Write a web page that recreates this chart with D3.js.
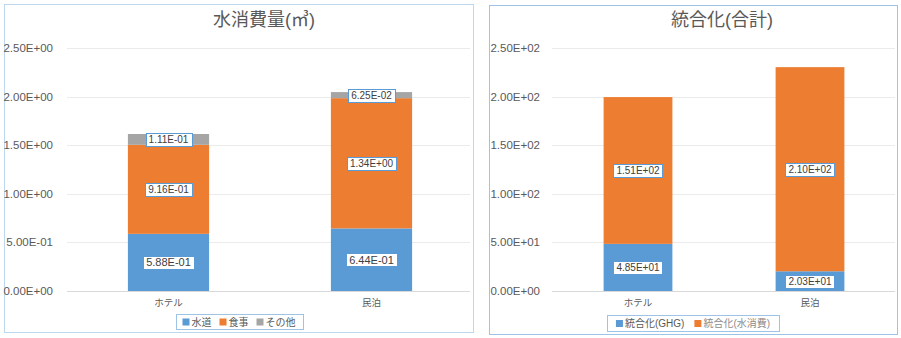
<!DOCTYPE html>
<html><head><meta charset="utf-8">
<script src="https://cdn.jsdelivr.net/npm/d3@7"></script>
<style>body{margin:0;background:#fff;} svg{display:block;font-family:"Liberation Sans","Noto Sans CJK JP",sans-serif;}</style>
</head><body>
<svg id="c" width="901" height="338"></svg>
<script>
const categories = ["ホテル", "民泊"];
// left chart: water consumption
const waterSeries = ["水道", "食事", "その他"];
const waterValues = [
  [0.588, 0.644],
  [0.916, 1.34],
  [0.111, 0.0625]
];
const waterLabels = [["5.88E-01","6.44E-01"],["9.16E-01","1.34E+00"],["1.11E-01","6.25E-02"]];
const waterTicks = [0, 0.5, 1.0, 1.5, 2.0, 2.5];
const waterTickLabels = ["0.00E+00","5.00E-01","1.00E+00","1.50E+00","2.00E+00","2.50E+00"];
// right chart: integrated
const intSeries = ["統合化(GHG)", "統合化(水消費)"];
const intValues = [
  [48.5, 20.3],
  [151, 210]
];
const intLabels = [["4.85E+01","2.03E+01"],["1.51E+02","2.10E+02"]];
const intTicks = [0, 50, 100, 150, 200, 250];
const intTickLabels = ["0.00E+00","5.00E+01","1.00E+02","1.50E+02","2.00E+02","2.50E+02"];

const colors = ["#5B9BD5", "#ED7D31", "#A5A5A5"];
const svg = d3.select("#c");

function chart(o) {
  const g = svg.append("g");
  g.append("rect").attr("x", o.frame[0]+0.5).attr("y", o.frame[1]+0.5)
    .attr("width", o.frame[2]-o.frame[0]).attr("height", o.frame[3]-o.frame[1])
    .attr("fill", "#fff").attr("stroke", o.frameColor).attr("stroke-width", 1);
  const x = d3.scaleBand().domain(categories).range([o.px0, o.px1]).paddingInner(0.6).paddingOuter(0.3);
  const y = d3.scaleLinear().domain([0, o.ticks[o.ticks.length-1]]).range([291, 48]);
  // grid
  g.selectAll(".grid").data(o.ticks).enter().append("line")
    .attr("x1", o.px0).attr("x2", o.gx1).attr("y1", d => Math.round(y(d))+0.5).attr("y2", d => Math.round(y(d))+0.5)
    .attr("stroke", (d,i) => i===0 ? "#D9D9D9" : "#EBEBEB").attr("stroke-width", 1);
  // y tick labels
  g.selectAll(".yt").data(o.ticks).enter().append("text")
    .attr("x", o.tx).attr("y", d => y(d)).attr("dy", "0.35em").attr("text-anchor", "end")
    .attr("font-size", 11.5).attr("fill", "#595959").text((d,i) => o.tickLabels[i]);
  // stacked bars
  const n = o.values.length;
  categories.forEach((c, ci) => {
    let acc = 0;
    for (let s = 0; s < n; s++) {
      const v = o.values[s][ci];
      const y0 = y(acc), y1 = y(acc+v);
      g.append("rect").attr("x", x(c)).attr("width", x.bandwidth())
        .attr("y", y1).attr("height", y0-y1).attr("fill", colors[s]);
      acc += v;
    }
  });
  // labels
  categories.forEach((c, ci) => {
    let acc = 0;
    for (let s = 0; s < n; s++) {
      const v = o.values[s][ci];
      const cy = y(acc + v/2);
      const cx = x(c) + x.bandwidth()/2;
      const fs = o.labelFs[s];
      const t = g.append("text").attr("x", cx).attr("y", cy).attr("dy", "0.35em")
        .attr("text-anchor", "middle").attr("font-size", fs).attr("fill", "#404040")
        .text(o.labels[s][ci]);
      const w = t.node().getComputedTextLength();
      g.insert("rect", function(){ return t.node(); })
        .attr("x", Math.round(cx - w/2 - 3)+0.5).attr("y", Math.round(cy - 6.5)+0.5)
        .attr("width", Math.round(w + 6)).attr("height", 13)
        .attr("fill", "#fff").attr("stroke", "#5B9BD5").attr("stroke-width", 1);
      acc += v;
    }
  });
  // category labels
  g.selectAll(".cat").data(categories).enter().append("text")
    .attr("x", d => x(d) + x.bandwidth()/2).attr("y", 303).attr("dy", "0.35em")
    .attr("text-anchor", "middle").attr("font-size", 9.5).attr("fill", "#595959").text(d => d);
  // title
  g.append("text").attr("x", o.titleX).attr("y", 20).attr("dy", "0.35em").attr("text-anchor", "middle")
    .attr("font-size", 18).attr("fill", "#595959").text(o.title);
  // legend
  const L = o.legend;
  const lg = g.append("g");
  const items = [];
  let cur = 0;
  o.series.forEach((s, i) => {
    const it = lg.append("g");
    it.append("rect").attr("x", 0).attr("y", -3.5).attr("width", 7).attr("height", 7).attr("fill", colors[i]);
    const t = it.append("text").attr("x", 9).attr("y", 0).attr("dy", "0.35em")
      .attr("font-size", L.fs).attr("fill", L.colorsText[i]).text(s);
    const w = 9 + t.node().getComputedTextLength();
    items.push({it, off: cur});
    cur += w + L.gap;
  });
  const total = cur - L.gap;
  const bw = total + 2*L.pad;
  const bx = L.cx - bw/2;
  lg.insert("rect", ":first-child").attr("x", Math.round(bx)+0.5).attr("y", L.y+0.5).attr("width", Math.round(bw)).attr("height", L.h)
    .attr("fill", "#fff").attr("stroke", "#9DC3E6").attr("stroke-width", 1);
  items.forEach(d => d.it.attr("transform", `translate(${bx + L.pad + d.off},${L.y + L.h/2 + 0.5})`));
}

chart({
  frame: [4, 4, 473, 332], frameColor: "#BDD7EE",
  px0: 67, px1: 473, gx1: 470, tx: 53,
  ticks: waterTicks, tickLabels: waterTickLabels,
  values: waterValues, labels: waterLabels, labelFs: [11, 10, 10],
  series: waterSeries, title: "水消費量(㎥)", titleX: 264,
  legend: { cx: 239, y: 314, h: 15, pad: 7, gap: 8, fs: 10, colorsText: ["#595959","#595959","#595959"] }
});
chart({
  frame: [489, 5, 897, 334], frameColor: "#9DC3E6",
  px0: 552, px1: 896, gx1: 895, tx: 540,
  ticks: intTicks, tickLabels: intTickLabels,
  values: intValues, labels: intLabels, labelFs: [10, 10],
  series: intSeries, title: "統合化(合計)", titleX: 722,
  legend: { cx: 693, y: 315, h: 16, pad: 9, gap: 10, fs: 10, colorsText: ["#595959","#8C8C8C"] }
});
</script>
</body></html>
